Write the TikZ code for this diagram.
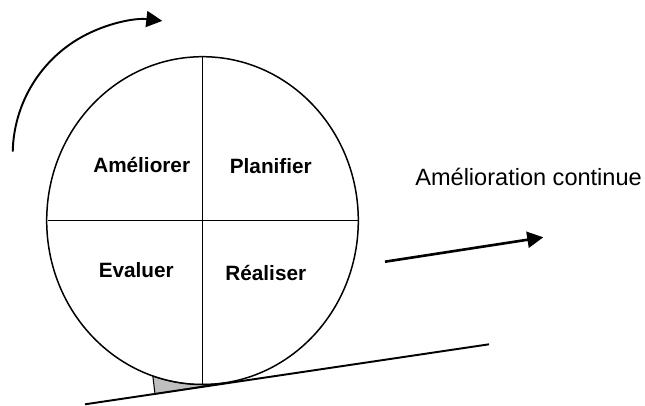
\documentclass[tikz,border=0pt]{standalone}
\usepackage{fontspec}
\setmainfont{Liberation Sans}
\usetikzlibrary{arrows.meta,calc}

\begin{document}
\begin{tikzpicture}[
    quarter/.style={font=\fontsize{11.8}{14}\selectfont\bfseries, anchor=base},
    bigarrow/.style={-{Triangle[length=0.32cm,width=0.32cm]}}]
    \useasboundingbox (0,0) rectangle (12.9,8.1);
    \coordinate (c) at (4.05,3.688);
    \coordinate (g1) at (1.70,0.014);
    \coordinate (g2) at (9.78,1.214);
    \coordinate (a1) at (7.70,2.866);
    \coordinate (a2) at (10.866,3.354);
    % chock under the wheel
    \filldraw[fill=gray!50, line width=0.6pt] (3.10,0.22) -- ($(c)+(251.4:3.116 and 3.278)$)
        arc[start angle=251.4, end angle=278, x radius=3.116, y radius=3.278] -- cycle;
    % wheel
    \draw[line width=0.85pt] (c) ellipse [x radius=3.116, y radius=3.278];
    \draw[line width=0.75pt] ($(c)+(0,3.278)$) -- ($(c)+(0,-3.278)$);
    \draw[line width=0.75pt] ($(c)+(-3.1,0)$) -- ($(c)+(3.1,0)$);
    \draw[line width=1.1pt] (g1) -- (g2);
    % rotation and slope
    \draw[bigarrow, line width=1.1pt] (2.942,5.012) ++(178.8:2.688)
        arc[start angle=178.8, end angle=83.5, radius=2.688];
    \draw[bigarrow, line width=1.5pt] (a1) -- (a2);
    \node[quarter] (amel) at (2.834,4.646) {Améliorer};
    \node[quarter] (plan) at (5.416,4.633) {Planifier};
    \node[quarter] (eval) at (2.726,2.553) {Evaluer};
    \node[quarter] (real) at (5.316,2.487) {Réaliser};
    \node[anchor=base west, inner sep=0pt, font=\fontsize{13.4}{16}\selectfont] (label) at (8.30,4.40) {Amélioration continue};
\end{tikzpicture}
\end{document}
